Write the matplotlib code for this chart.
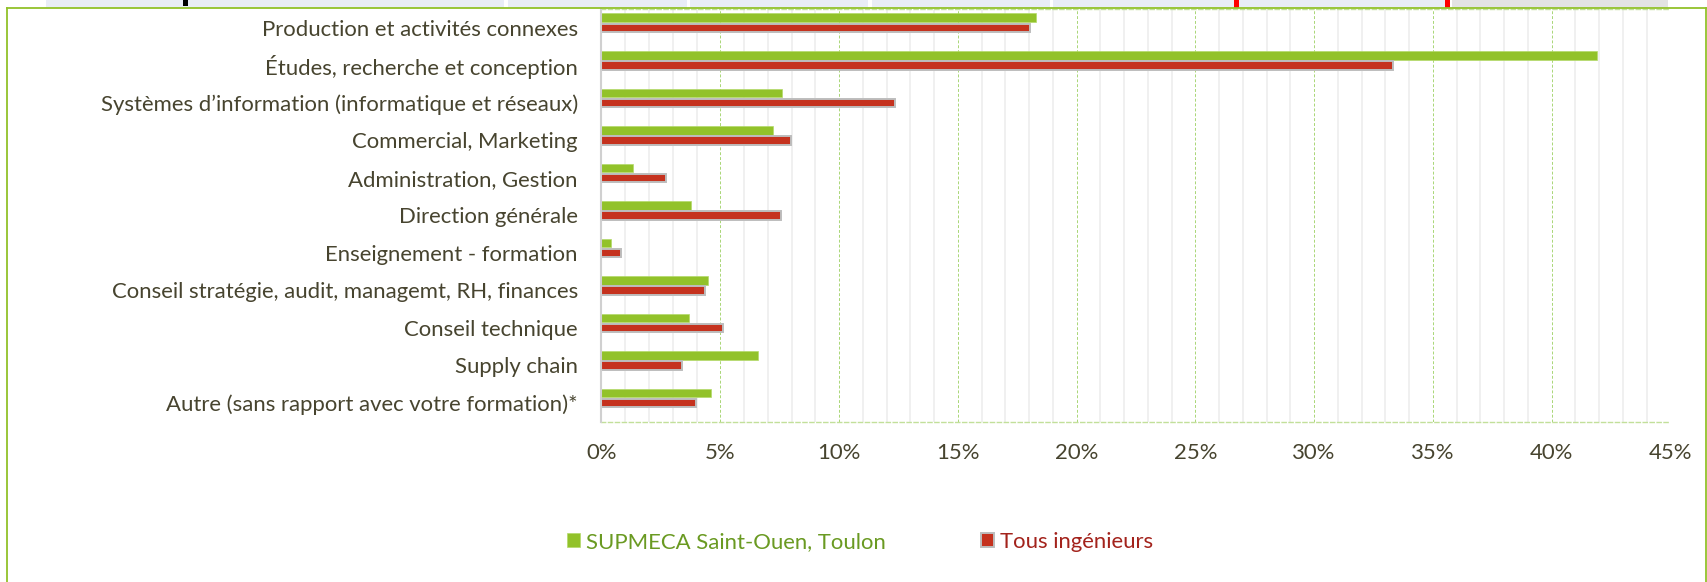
import matplotlib
matplotlib.use("Agg")
import matplotlib.pyplot as plt
from matplotlib.patches import Rectangle
from matplotlib.lines import Line2D
from matplotlib.ticker import MultipleLocator, FuncFormatter
import numpy as np

categories = [
    "Production et activités connexes",
    "Études, recherche et conception",
    "Systèmes d’information (informatique et réseaux)",
    "Commercial, Marketing",
    "Administration, Gestion",
    "Direction générale",
    "Enseignement - formation",
    "Conseil stratégie, audit, managemt, RH, finances",
    "Conseil technique",
    "Supply chain",
    "Autre (sans rapport avec votre formation)*",
]
supmeca = [18.3, 41.9, 7.6, 7.2, 1.33, 3.77, 0.38, 4.49, 3.68, 6.57, 4.63]
tous = [18.05, 33.3, 12.35, 7.98, 2.72, 7.54, 0.82, 4.35, 5.1, 3.4, 3.98]
series_names = ["SUPMECA Saint-Ouen, Toulon", "Tous ingénieurs"]
x_ticks = [0, 5, 10, 15, 20, 25, 30, 35, 40, 45]

GREEN = "#92c22a"
RED = "#c5321e"
TXT = "#47442f"
FONT = "Lato"
FS = 15.9
FS_LEG = 15.9

W, H = 1708, 582
fig = plt.figure(figsize=(W / 100, H / 100), dpi=100)
fig.patch.set_facecolor("white")

def fx(px):
    return px / W

def fy(py):
    return 1 - py / H

# top strip (cropped table above the chart)
strip = [
    (46, 504, "#e9edf6"), (508, 687, "#e9edf6"), (690, 868, "#e9edf6"),
    (872, 1050, "#e9edf6"), (1053, 1234, "#e9edf6"), (1234, 1239, "#ff0000"),
    (1239, 1445, "#e9edf6"), (1445, 1450, "#ff0000"), (1452, 1668, "#e3e3e3"),
]
for x0, x1, c in strip:
    fig.patches.append(Rectangle((fx(x0), fy(7.5)), fx(x1) - fx(x0), 7.5 / H,
                                 transform=fig.transFigure, facecolor=c,
                                 edgecolor="none", zorder=0))
fig.patches.append(Rectangle((fx(183), fy(6)), 5 / W, 6 / H, transform=fig.transFigure,
                             facecolor="black", edgecolor="none", zorder=0))

# green frame
for xs, ys in [([7, 7], [8, 582]), ([7, 1707], [8, 8]), ([1706.5, 1706.5], [8, 582])]:
    fig.lines.append(Line2D([fx(v) for v in xs], [fy(v) for v in ys],
                            transform=fig.transFigure, color=GREEN, lw=1.3))

ax_l, ax_r, ax_t, ax_b = 601.5, 1670.5, 9.0, 421.7
ax = fig.add_axes([fx(ax_l), fy(ax_b), (ax_r - ax_l) / W, (ax_b - ax_t) / H])

y = np.arange(len(categories))
h = 0.227
ax.barh(y - 0.267, supmeca, height=h, color=GREEN, edgecolor="#b3da6a",
        linewidth=0.5, zorder=3, label=series_names[0])
ax.barh(y, tous, height=h, color=RED, edgecolor="#bdbdbd",
        linewidth=1.4, zorder=3, label=series_names[1])

ax.set_xlim(0, 45)
ax.set_ylim(len(categories) - 0.5, -0.5)
ax.set_yticks(y)
ax.set_yticklabels(categories, fontsize=FS, color=TXT, family=FONT)
ax.set_xticks(x_ticks)
ax.xaxis.set_major_formatter(FuncFormatter(lambda v, p: f"{v:.0f}%"))
for lab in ax.get_xticklabels():
    lab.set_family(FONT)
ax.tick_params(axis="x", which="major", labelsize=FS, colors=TXT, length=0, pad=15)
ax.tick_params(axis="x", which="minor", length=0)
ax.tick_params(axis="y", length=0, pad=17)
ax.xaxis.set_minor_locator(MultipleLocator(1))
ax.grid(which="minor", axis="x", color="#efefef", lw=1.3, zorder=0)
ax.grid(which="major", axis="x", color="#a9d676", lw=0.7, ls=(0, (3, 2)), zorder=1)
ax.set_axisbelow(True)

ax.spines["right"].set_visible(False)
ax.spines["left"].set_color("#d0d0d0")
ax.spines["left"].set_linewidth(1.5)
ax.spines["left"].set_zorder(4)
for s in ["top", "bottom"]:
    ax.spines[s].set_color("#c2e09a")
    ax.spines[s].set_linewidth(1.0)
    ax.spines[s].set_linestyle((0, (3, 2)))

leg = fig.legend(loc="center left", bbox_to_anchor=(fx(567.5), fy(542)),
                 ncol=2, frameon=False, prop={"family": FONT, "size": FS_LEG},
                 handlelength=0.58, handleheight=0.58, handletextpad=0.27,
                 columnspacing=4.3, borderpad=0, borderaxespad=0)
for t, c in zip(leg.get_texts(), ["#6a9a22", "#a3231c"]):
    t.set_color(c)

fig.savefig("out.png", dpi=100, facecolor="white")
